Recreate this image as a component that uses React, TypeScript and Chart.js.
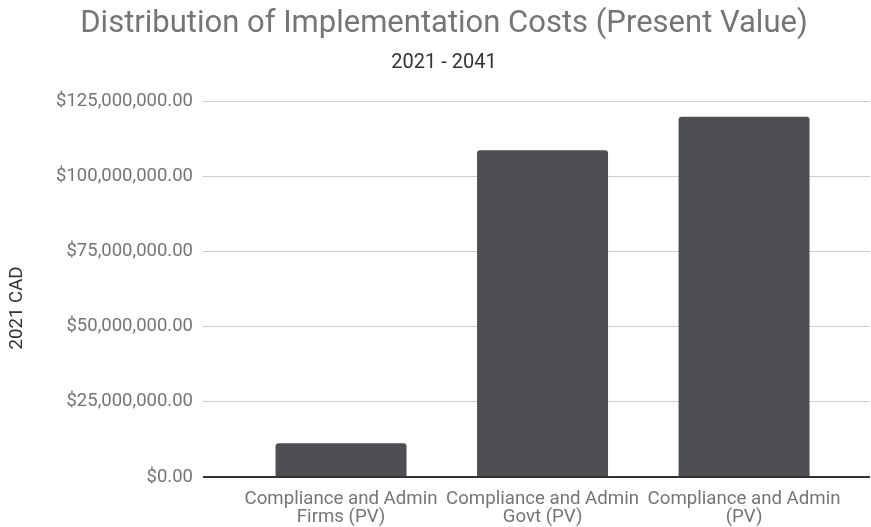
import React, { useEffect, useRef } from "react";
import { Chart, registerables } from "chart.js";

Chart.register(...registerables);

const titleText = "Distribution of Implementation Costs (Present Value)";
const subtitleText = "2021 - 2041";
const yAxisTitle = "2021 CAD";
const categories: string[][] = [
  ["Compliance and Admin", "Firms (PV)"],
  ["Compliance and Admin", "Govt (PV)"],
  ["Compliance and Admin", "(PV)"],
];
const values: number[] = [11200000, 108600000, 119800000];
const yMin = 0;
const yMax = 125000000;
const yStep = 25000000;

const FONT = "Roboto";

const yTitlePlugin = {
  id: "yTitleShifted",
  afterDraw(chart: any) {
    const { ctx, chartArea } = chart;
    ctx.save();
    ctx.fillStyle = "#333333";
    ctx.font = `18.67px ${FONT}`;
    ctx.textAlign = "center";
    ctx.textBaseline = "middle";
    ctx.translate(17.5, (chartArea.top + chartArea.bottom) / 2 + 19);
    ctx.rotate(-Math.PI / 2);
    ctx.fillText(yAxisTitle, 0, 0);
    ctx.restore();
  },
};

export default function App() {
  const ref = useRef<HTMLCanvasElement | null>(null);

  useEffect(() => {
    document.body.style.margin = "0";
    const canvas = ref.current;
    if (!canvas) return;
    const chart = new Chart(canvas, {
      type: "bar",
      data: {
        datasets: [
          {
            data: categories.map((_, i) => ({ x: i, y: values[i] })),
            backgroundColor: "#4e4f53",
            borderRadius: 3,
            borderSkipped: "bottom",
            barPercentage: 0.65,
            categoryPercentage: 1,
          },
        ],
      },
      plugins: [yTitlePlugin],
      options: {
        responsive: false,
        animation: false,
        layout: { padding: { left: 18, right: 1, top: 0, bottom: 0 } },
        plugins: {
          legend: { display: false },
          tooltip: { enabled: false },
          title: {
            display: true,
            text: titleText,
            color: "#757575",
            font: { family: FONT, size: 31, weight: "normal" },
            padding: { top: 5.5, bottom: 8.3 },
          },
          subtitle: {
            display: true,
            text: subtitleText,
            color: "#333333",
            font: { family: FONT, size: 20, weight: "normal" },
            padding: { top: 0, bottom: 26 },
          },
        },
        scales: {
          x: {
            type: "linear",
            offset: false,
            min: -0.685,
            max: 2.625,
            grid: { display: false, offset: false },
            border: { display: false },
            afterBuildTicks: (scale: any) => {
              scale.ticks = categories.map((_, i) => ({ value: i }));
            },
            afterFit: (scale: any) => {
              scale.height = 50;
            },
            ticks: {
              autoSkip: false,
              maxRotation: 0,
              minRotation: 0,
              padding: 5,
              color: "#757575",
              font: { family: FONT, size: 18.67, lineHeight: 0.97 },
              callback: (v: any) => categories[Number(v)] ?? "",
            },
          },
          y: {
            min: yMin,
            max: yMax,
            border: { display: false },
            grid: {
              drawTicks: false,
              color: (ctx: any) => (ctx.tick && ctx.tick.value === 0 ? "#333333" : "#cccccc"),
              lineWidth: (ctx: any) => (ctx.tick && ctx.tick.value === 0 ? 2 : 1),
            },
            afterFit: (scale: any) => {
              scale.width = 185;
            },
            ticks: {
              stepSize: yStep,
              padding: 10,
              color: "#757575",
              font: { family: FONT, size: 18.5 },
              callback: (v: any) =>
                "$" +
                Number(v).toLocaleString("en-US", {
                  minimumFractionDigits: 2,
                  maximumFractionDigits: 2,
                }),
            },
            title: { display: false },
          },
        },
      },
    });
    return () => chart.destroy();
  }, []);

  return (
    <div style={{ width: 871, height: 527 }}>
      <canvas ref={ref} width={871} height={527} />
    </div>
  );
}
